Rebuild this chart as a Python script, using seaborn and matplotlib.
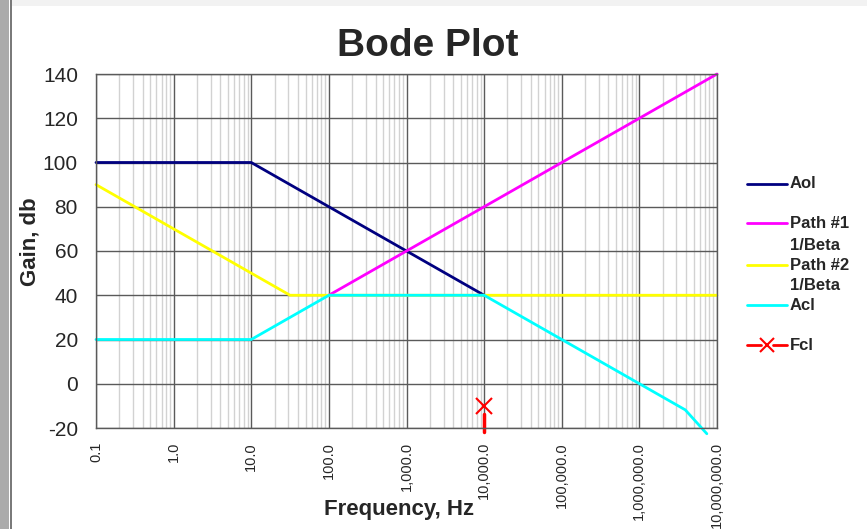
"""
Bode plot: open loop gain, two 1/Beta paths, closed loop gain and Fcl.
"""

import matplotlib
matplotlib.use("Agg")
import matplotlib.pyplot as plt
import numpy as np
import pandas as pd
import seaborn as sns
from matplotlib.lines import Line2D
from matplotlib.patches import Rectangle
from matplotlib.ticker import FixedLocator, LogLocator, NullFormatter

# ─── Data ──────────────────────────────────────────────────────────
aol_freq = [0.1, 10, 10000]
aol_gain = [100, 100, 40]

path1_freq = [100, 1e7]
path1_gain = [40, 140]

path2_freq = [0.1, 31.6, 1e7]
path2_gain = [90, 40, 40]

acl_freq = [0.1, 10, 100, 10000, 3.9e6, 7.4e6]
acl_gain = [20, 20, 40, 40, -11.8, -22.6]

fcl_freq = [10000]
fcl_gain = [-10]
fcl_stem_freq = [10000, 10000]
fcl_stem_gain = [-13.5, -22]

freq_ticks = [0.1, 1, 10, 100, 1e3, 1e4, 1e5, 1e6, 1e7]
gain_ticks = [-20, 0, 20, 40, 60, 80, 100, 120, 140]

series_names = ["Aol", "Path #1", "Path #2", "Acl"]
colors = {
    "Aol": "#000080",
    "Path #1": "#ff00ff",
    "Path #2": "#ffff00",
    "Acl": "#00ffff",
    "Fcl": "#ff0000",
}

# ─── Figure ─────────────────────────────────
sns.set_theme(style="white")
plt.rcParams["font.family"] = ["Liberation Sans", "DejaVu Sans"]

W, H = 867, 529
fig = plt.figure(figsize=(W / 100, H / 100), dpi=100)
fig.patch.set_facecolor("white")

def px(x, y):
    """Pixel position (from top left) to figure fraction."""
    return x / W, 1 - y / H

# frame decoration of the screenshot
fig.patches.append(Rectangle((0, 0), 9 / W, 1, transform=fig.transFigure,
                             facecolor="#ababab", edgecolor="none"))
fig.patches.append(Rectangle((10 / W, 0), 2 / W, 1, transform=fig.transFigure,
                             facecolor="#7a7a7a", edgecolor="none"))
fig.patches.append(Rectangle((12 / W, 1 - 6 / H), 1, 6 / H, transform=fig.transFigure,
                             facecolor="#f2f2f2", edgecolor="none"))

x0, y0 = px(96, 428)
x1, y1 = px(717, 74)
ax = fig.add_axes([x0, y0, x1 - x0, y1 - y0])

df = pd.concat([
    pd.DataFrame({"freq": f, "gain": g, "series": name})
    for name, f, g in zip(series_names,
                          [aol_freq, path1_freq, path2_freq, acl_freq],
                          [aol_gain, path1_gain, path2_gain, acl_gain])
], ignore_index=True)

sns.lineplot(data=df, x="freq", y="gain", hue="series", hue_order=series_names,
             palette=colors, sort=False, estimator=None, linewidth=2,
             legend=False, ax=ax)

ax.plot(fcl_stem_freq, fcl_stem_gain, color=colors["Fcl"], lw=2.5)
ax.plot(fcl_freq, fcl_gain, ls="none", marker="x", ms=11, mew=1.5,
        color=colors["Fcl"])
for line in ax.lines:
    line.set_clip_on(False)

# ─── Axes ─────────────────────────────────
ax.set_xscale("log")
ax.set_xlim(freq_ticks[0], freq_ticks[-1])
ax.set_ylim(gain_ticks[0], gain_ticks[-1])

ax.xaxis.set_major_locator(FixedLocator(freq_ticks))
ax.xaxis.set_minor_locator(LogLocator(base=10, subs=np.arange(2, 10), numticks=100))
ax.xaxis.set_minor_formatter(NullFormatter())
ax.set_xticks(freq_ticks, [f"{v:,.1f}" for v in freq_ticks], rotation=90)
ax.set_yticks(gain_ticks, [str(v) for v in gain_ticks])

ax.tick_params(axis="both", which="both", length=0)
ax.tick_params(axis="x", labelsize=10.5, pad=10)
ax.tick_params(axis="y", labelsize=15, pad=13)

ax.set_axisbelow(True)
ax.grid(which="major", color="#5a5a5a", lw=1)
ax.grid(which="minor", axis="x", color="#d2d2d2", lw=1)
for sp in ax.spines.values():
    sp.set_visible(True)
    sp.set_color("#5a5a5a")
    sp.set_linewidth(1)

ax.set_xlabel("Frequency, Hz", fontsize=16, fontweight="bold", va="center")
ax.xaxis.set_label_coords((399 - 96) / 621, (428 - 510) / 354)
ax.set_ylabel("Gain, db", fontsize=16, fontweight="bold", va="center")
ax.yaxis.set_label_coords((30 - 96) / 621, (428 - 242) / 354)

fig.text(*px(428, 46), "Bode Plot", ha="center", va="center",
         fontsize=28, fontweight="bold")

# ─── Legend (drawn by hand to keep the Excel layout) ─────────────────
key_x0, key_x1, text_x = 747, 787, 790
entries = [("Aol", 184), ("Path #1", 223), ("Path #2", 265), ("Acl", 305)]
for name, ly in entries:
    fx0, fy = px(key_x0, ly)
    fx1, _ = px(key_x1, ly)
    fig.add_artist(Line2D([fx0, fx1], [fy, fy], color=colors[name], lw=2))
    fig.text(*px(text_x, ly), name, ha="left", va="center",
             fontsize=12, fontweight="bold")
for ly in [246, 286]:
    fig.text(*px(text_x, ly), "1/Beta", ha="left", va="center",
             fontsize=12, fontweight="bold")

fy = px(0, 345)[1]
fig.add_artist(Line2D([747 / W, 761 / W], [fy, fy], color=colors["Fcl"], lw=2))
fig.add_artist(Line2D([773 / W, 787 / W], [fy, fy], color=colors["Fcl"], lw=2))
fig.add_artist(Line2D([767 / W], [fy], ls="none", marker="x", ms=10, mew=1.5,
                      color=colors["Fcl"]))
fig.text(*px(text_x, 345), "Fcl", ha="left", va="center",
         fontsize=12, fontweight="bold")

fig.savefig("out.png", dpi=100)
